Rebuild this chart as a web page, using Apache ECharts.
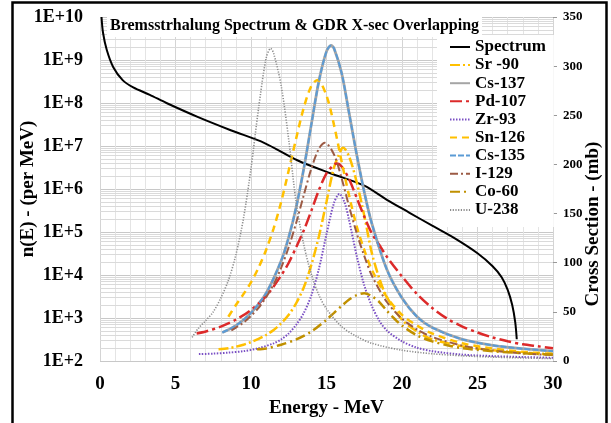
<!DOCTYPE html>
<html><head><meta charset="utf-8">
<script src="https://cdn.jsdelivr.net/npm/echarts@6/dist/echarts.min.js"></script>
<style>html,body{margin:0;padding:0;background:#fff}#c{width:611px;height:423px}</style>
</head><body><div id="c"></div>
<script>
// ---- data ----
const spectrumEnergy = [0.1,0.2,0.45,0.87,1.5,2.2,3.3,4.4,6.5,8.7,10.9,13.1,15.3,17.5,19.0,20.5,22.0,23.5,25.0,26.0,26.6,27.0,27.3,27.5,27.6];
const spectrumValues = [1e10,4.3e9,1.7e9,6.9e8,3.4e8,2.3e8,1.55e8,1e8,4.7e7,2.3e7,1.17e7,4.6e6,2.3e6,1.2e6,5.6e5,2.8e5,1.4e5,7.1e4,3.2e4,1.6e4,8.9e3,4.5e3,2e3,7.9e2,3.2e2];

const sr90 = [[7.85,12],[8.5,13],[9,14.5],[9.5,16.6],[10,19.2],[10.5,22.4],[11,26.5],[11.5,31.6],[12,38.4],[12.5,47],[13,59],[13.5,75],[14,98],[14.5,127],[15,162],[15.5,197],[16,216],[16.1,217],[16.5,208],[17,182],[17.5,148],[18,110],[18.5,84],[19,65],[20,42],[21,30],[22,22],[24,15],[26,11],[28,8.5],[30,7]];
const cs137 = [[8.1,29],[9,36],[10,49],[11,69],[12,102],[12.5,126],[13,157],[13.5,196],[14,241],[14.5,285],[15,315],[15.3,321],[15.5,318],[16,293],[16.5,252],[17,210],[17.5,172],[18,140],[19,93],[20,64],[21,45],[22,34],[24,22],[26,16],[28,12.5],[30,10]];
const pd107 = [[6.4,28],[7,30],[8,35],[9,42],[10,52],[11,66],[12,87],[12.5,100],[13,116],[13.5,133],[14,153],[14.5,174],[15,191],[15.5,200],[15.7,201],[16,198],[16.5,185],[17,166],[17.5,147],[18,130],[18.5,118],[19,106],[20,86],[21,68],[22,54],[23,43],[24,35],[25,29],[26,24],[27,20],[28,17],[29,15],[30,13]];
const zr93 = [[6.55,7],[7.5,7.5],[8.5,8.5],[9.5,10],[10.5,13],[11.5,18],[12,22],[12.5,28],[13,37],[13.5,49],[14,67],[14.5,94],[15,129],[15.5,161],[15.85,170],[16.2,161],[16.5,143],[17,107],[17.5,77],[18,56],[18.5,41],[19,31],[20,20],[21,13.5],[22,10],[24,6.5],[26,5],[28,4],[30,3.3]];
const sn126 = [[8.5,45],[9,57],[9.5,68],[10,80],[10.5,95],[11,113],[11.5,135],[12,162],[12.5,194],[13,227],[13.5,258],[14,280],[14.4,286],[15,270],[15.5,240],[16,203],[16.5,168],[17,137],[17.5,113],[18,93],[19,65],[20,47],[21,36],[22,28],[24,18],[26,12.7],[28,9.3],[30,7.2]];
const cs135 = [[8.1,29],[9,36],[10,49],[11,69],[12,102],[12.5,126],[13,157],[13.5,196],[14,241],[14.5,285],[15,315],[15.3,321],[15.5,318],[16,293],[16.5,252],[17,210],[17.5,172],[18,140],[19,93],[20,64],[21,45],[22,34],[24,22],[26,16],[28,12.5],[30,10]];
const i129 = [[8.7,31],[9,34],[9.5,39],[10,46],[10.5,54],[11,65],[11.5,78],[12,95],[12.5,116],[13,141],[13.5,169],[14,196],[14.5,216],[14.9,222],[15.5,210],[16,186],[16.5,157],[17,130],[17.5,107],[18,87],[19,60],[20,43],[21,32],[22,24.5],[24,15.6],[26,10.7],[28,7.8],[30,6]];
const co60 = [[10.4,12],[11,12.8],[12,16.6],[13,22],[14,30],[15,42],[15.5,49],[16,56],[16.5,62.5],[17,67],[17.5,69],[18,66],[18.5,60],[19,51],[19.5,43],[20,36],[21,26],[22,20],[23,16],[24,13],[26,10],[28,8],[30,6.5]];
const u238 = [[6.1,24],[6.5,33],[7,41],[7.5,50],[8,64],[8.5,82],[9,108],[9.5,145],[10,196],[10.5,257],[11,308],[11.3,318],[11.5,313],[12,280],[12.5,225],[13,160],[13.5,118],[14,88],[14.5,67],[15,53],[16,35],[17,25],[18,18],[20,11],[22,7.4],[24,5.3],[26,4],[28,3.1],[30,2.5]];

const legendNames = ['Spectrum','Sr -90','Cs-137','Pd-107','Zr-93','Sn-126','Cs-135','I-129','Co-60','U-238'];
const xTicks = {min:0, max:30, interval:5};
const crossTicks = {min:0, max:350, interval:50};

// ---- chart ----
const FONT = "'Liberation Serif','Times New Roman',serif";
const logGrid = [];
for (let k = 2; k < 10; k++) for (let m = 2; m < 10; m++) logGrid.push({yAxis: m * Math.pow(10, k)});

function gdr(name, data, color, type, width) {
  return {name, type:'line', yAxisIndex:1, data, smooth:0.3,
    symbol:'none', showSymbol:false, z:10,
    lineStyle:{color, type, width}, itemStyle:{color}};
}

const chart = echarts.init(document.getElementById('c'));
chart.setOption({
  animation:false,
  backgroundColor:'#fff',
  title:{text:'Bremsstrhalung Spectrum & GDR X-sec Overlapping', left:107, top:15, padding:[3,3],
    backgroundColor:'#fff', z:8,
    textStyle:{fontFamily:FONT, fontWeight:'bold', fontSize:16, color:'#000'}},
  legend:{data:legendNames, orient:'vertical', left:437, top:35, padding:[3,8,8,12],
    backgroundColor:'#fff', z:8, itemWidth:20, itemHeight:14, itemGap:0.1,
    itemStyle:{opacity:0},
    textStyle:{fontFamily:FONT, fontWeight:'bold', fontSize:17, color:'#000', lineHeight:18}},
  grid:{left:100, right:53, top:17, bottom:62},
  graphic:[{type:'rect', silent:true, z:100, shape:{x:12.5, y:2.5, width:594, height:440},
    style:{fill:'none', stroke:'#000', lineWidth:2.5}}],
  xAxis:{type:'value', min:xTicks.min, max:xTicks.max, interval:xTicks.interval,
    axisLine:{show:false}, axisTick:{show:false},
    axisLabel:{fontFamily:FONT, fontWeight:'bold', fontSize:19, color:'#000', margin:14},
    splitLine:{show:true, lineStyle:{color:'#d4d4d4'}},
    minorTick:{show:false, splitNumber:5}, minorSplitLine:{show:true, lineStyle:{color:'#e4e4e4'}},
    name:'Energy - MeV', nameLocation:'middle', nameGap:38, nameMoveOverlap:false,
    nameTextStyle:{fontFamily:FONT, fontWeight:'bold', fontSize:19, color:'#000'}},
  yAxis:[
    {type:'log', logBase:10, min:1e2, max:1e10, splitNumber:8, position:'left',
      axisLine:{show:false}, axisTick:{show:false},
      axisLabel:{fontFamily:FONT, fontWeight:'bold', fontSize:18, color:'#000', margin:17,
        formatter:v => '1E+' + Math.round(Math.log10(v))},
      splitLine:{show:true, lineStyle:{color:'#c8c8c8'}},
      name:'n(E) - (per MeV)', nameLocation:'middle', nameGap:62, nameRotate:90, nameMoveOverlap:false,
      nameTextStyle:{fontFamily:FONT, fontWeight:'bold', fontSize:19, color:'#000'}},
    {type:'value', min:crossTicks.min, max:crossTicks.max, interval:crossTicks.interval, position:'right',
      axisLine:{show:false}, axisTick:{show:true, length:4, lineStyle:{color:'#999'}},
      axisLabel:{fontFamily:FONT, fontWeight:'bold', fontSize:13, color:'#000', margin:10},
      splitLine:{show:false},
      name:'Cross Section - (mb)', nameLocation:'middle', nameGap:31, nameRotate:90, nameMoveOverlap:false,
      nameTextStyle:{fontFamily:FONT, fontWeight:'bold', fontSize:19, color:'#000', padding:[0,70,0,0]}}
  ],
  series:[
    {name:'Spectrum', type:'line', yAxisIndex:0, data:spectrumEnergy.map((e,i)=>[e, spectrumValues[i]]),
      smooth:0.3, symbol:'none', showSymbol:false, z:10,
      lineStyle:{color:'#000', width:2}, itemStyle:{color:'#000'},
      markLine:{silent:true, z:1, symbol:'none', animation:false, label:{show:false},
        emphasis:{disabled:true}, lineStyle:{color:'#dadada', type:'solid', width:1}, data:logGrid}},
    gdr('Sr -90', sr90, '#ffc000', [10,3,2,3], 2.5),
    gdr('Cs-137', cs137, '#a5a5a5', 'solid', 2.8),
    gdr('Pd-107', pd107, '#dc2a2a', [12,4,3,4], 2.5),
    gdr('Zr-93', zr93, '#7a4fc4', [1.5,1.5], 2),
    gdr('Sn-126', sn126, '#ffc000', [7,5], 2.5),
    gdr('Cs-135', cs135, '#5b9bd5', [6,2], 2),
    gdr('I-129', i129, '#9c5b45', [8,3,2,3], 2),
    gdr('Co-60', co60, '#c09000', [10,4,2,4], 2.5),
    gdr('U-238', u238, '#8c8c8c', [1.2,1.5], 1.6)
  ]
});
</script></body></html>
